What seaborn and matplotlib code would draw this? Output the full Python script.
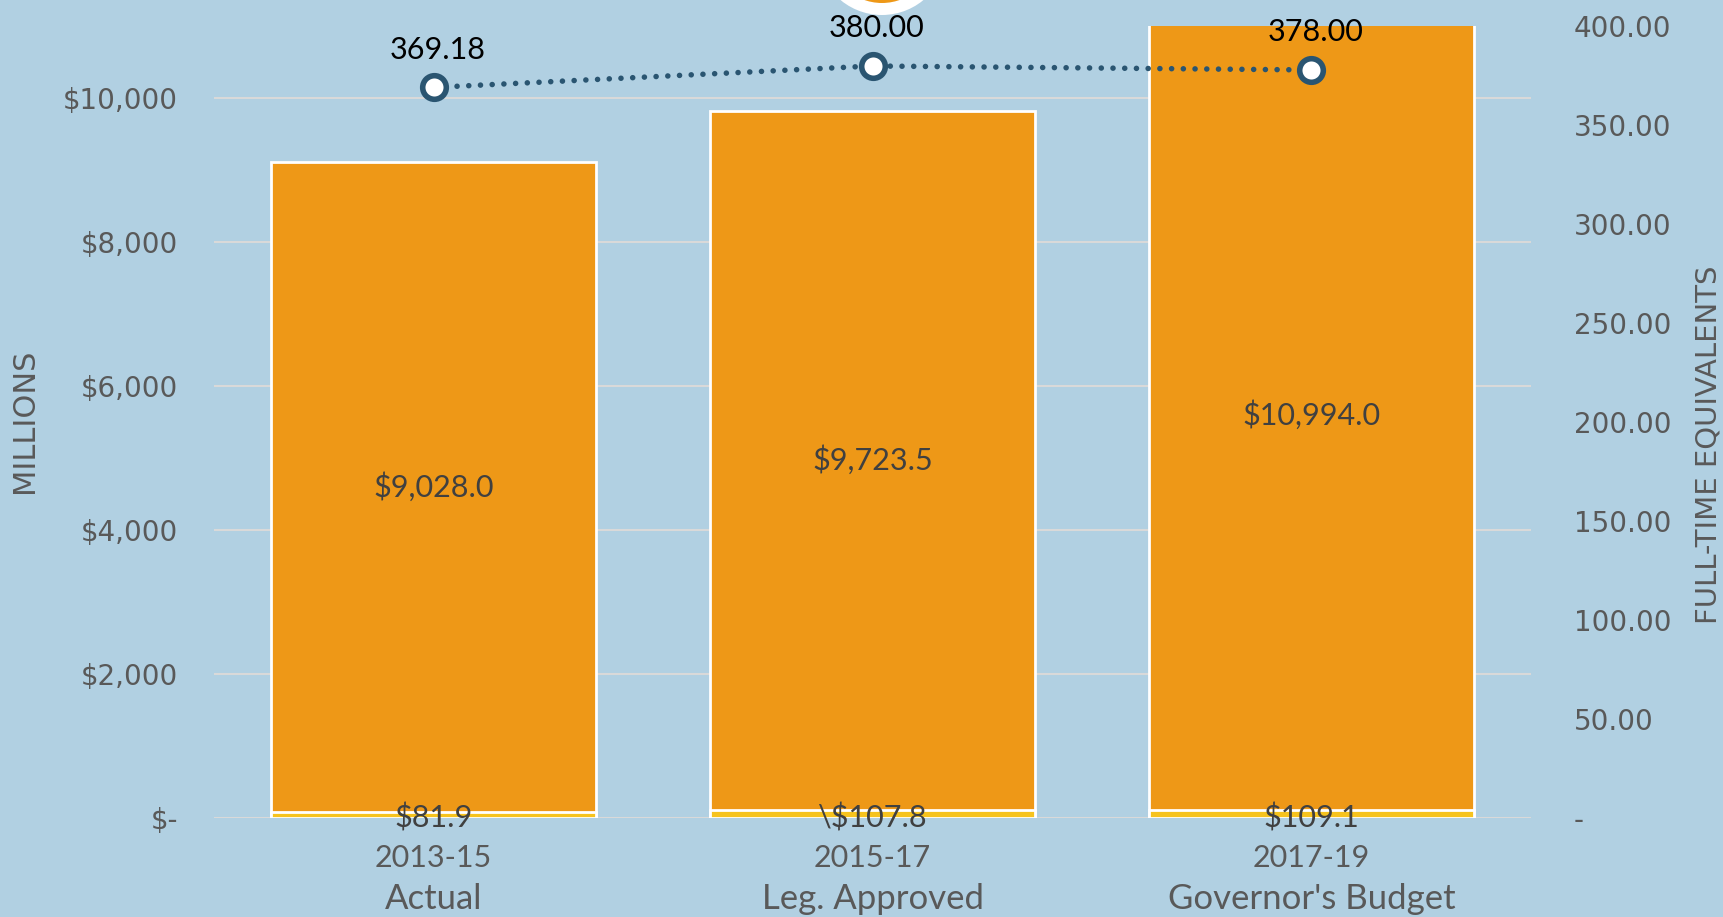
import matplotlib
matplotlib.use("Agg")
import matplotlib.pyplot as plt
import seaborn as sns
import numpy as np
import pandas as pd
from matplotlib.patches import Ellipse

# ---- data ----
periods = ["2013-15", "2015-17", "2017-19"]
period_names = ["Actual", "Leg. Approved", "Governor's Budget"]
base_values = [81.9, 107.8, 109.1]          # yellow (bottom) segment, $ millions
main_values = [9028.0, 9723.5, 10994.0]     # orange segment, $ millions
base_labels = ["$81.9", "\\$107.8", "$109.1"]
main_labels = ["$9,028.0", "$9,723.5", "$10,994.0"]
fte_values = [369.18, 380.00, 378.00]
fte_labels = ["369.18", "380.00", "378.00"]
left_ticks = [0, 2000, 4000, 6000, 8000, 10000]
left_tick_labels = ["$-", "$2,000", "$4,000", "$6,000", "$8,000", "$10,000"]
right_ticks = [0, 50, 100, 150, 200, 250, 300, 350, 400]
right_tick_labels = ["-", "50.00", "100.00", "150.00", "200.00", "250.00",
                     "300.00", "350.00", "400.00"]

BG = "#B1D0E2"
ORANGE = "#EE9817"
YELLOW = "#F6C31E"
LINE = "#2A5571"
TICK = "#595959"
LABEL = "#404040"

sns.set_theme(style="white")
plt.rcParams["font.family"] = ["DejaVu Sans"]

W, H = 1723, 917
fig = plt.figure(figsize=(W / 100, H / 100), dpi=100, facecolor=BG)
ax = fig.add_axes([0.1243, 0.108, 0.8885 - 0.1243, 0.9712 - 0.108])
ax.set_facecolor(BG)

cats = [f"{p}\n{n}" for p, n in zip(periods, period_names)]
totals = [b + m for b, m in zip(base_values, main_values)]
df = pd.DataFrame({"cat": cats, "total": totals, "base": base_values})

sns.barplot(data=df, x="cat", y="total", color=ORANGE, saturation=1,
            width=0.74, edgecolor="white", linewidth=2, ax=ax, zorder=2)
sns.barplot(data=df, x="cat", y="base", color=YELLOW, saturation=1,
            width=0.74, edgecolor="white", linewidth=2, ax=ax, zorder=3)

ax.set_xlim(-0.5, 2.5)
ax.set_ylim(0, 11000)
ax.set_yticks(left_ticks)
ax.set_yticklabels(left_tick_labels, fontsize=20, color=TICK)
ax.yaxis.grid(True, color="#D9D9D9", linewidth=1.5)
ax.set_axisbelow(True)
ax.tick_params(axis="y", length=0, pad=26)
ax.tick_params(axis="x", length=0)
for s in ax.spines.values():
    s.set_visible(False)
ax.set_xlabel("")
ax.set_ylabel("")
ax.set_xticks(range(len(cats)))
ax.set_xticklabels([""] * len(cats))

# two-line category labels (second line in slightly larger type, as in reference)
ax_h = (818 - 26.4)
xt = ax.get_xaxis_transform()
for i in range(len(cats)):
    ax.text(i, (818 - 858) / ax_h, periods[i], transform=xt, ha="center", va="center",
            fontsize=22, color=TICK, family="Lato", clip_on=False)
    ax.text(i, (818 - 899) / ax_h, period_names[i], transform=xt, ha="center",
            va="center", fontsize=25, color=TICK, family="Lato", clip_on=False)

for i, (b, m) in enumerate(zip(base_values, main_values)):
    ax.text(i, b + m / 2, main_labels[i], ha="center", va="center",
            fontsize=22, color=LABEL, family="Lato", zorder=5, parse_math=False)
    ax.text(i, 0, base_labels[i], ha="center", va="center",
            fontsize=22, color=LABEL, family="Lato", zorder=5, parse_math=False)

# ---- FTE line on secondary axis ----
ax2 = ax.twinx()
ax2.set_ylim(0, 400)
ax2.patch.set_visible(False)
sns.lineplot(x=[0, 1, 2], y=fte_values, ax=ax2, color=LINE, linewidth=4,
             linestyle=(0, (0.01, 2.1)), dash_capstyle="round",
             marker="o", markersize=17, markerfacecolor="white",
             markeredgecolor=LINE, markeredgewidth=4, zorder=6, clip_on=False)
for i, v in enumerate(fte_values):
    ax2.annotate(fte_labels[i], (i, v), xytext=(3, 27), textcoords="offset points",
                 ha="center", va="center", fontsize=22, color="black",
                 family="Lato", annotation_clip=False)
ax2.set_yticks(right_ticks)
ax2.set_yticklabels(right_tick_labels, fontsize=20, color=TICK, ha="left")
ax2.tick_params(axis="y", length=0, pad=31)
for s in ax2.spines.values():
    s.set_visible(False)
ax2.set_ylabel("")

# axis titles
fig.text(25 / W, 1 - 421 / H, "MILLIONS", rotation=90, ha="center", va="center",
         fontsize=22, color=TICK, family=["Liberation Sans Narrow", "DejaVu Sans"])
fig.text(1709 / W, 1 - 445 / H, "FULL-TIME EQUIVALENTS", rotation=90,
         ha="center", va="center", fontsize=21, color=TICK,
         family=["Liberation Sans Narrow", "DejaVu Sans"])

# partially visible badge at top
cx, cy = 882 / W, 1 + 50 / H
fig.patches.append(Ellipse((cx, cy), 2 * 65 / W, 2 * 65 / H, transform=fig.transFigure,
                           facecolor="white", edgecolor="none", zorder=10))
fig.patches.append(Ellipse((cx, cy), 2 * 53 / W, 2 * 53 / H, transform=fig.transFigure,
                           facecolor=ORANGE, edgecolor="none", zorder=11))

fig.savefig("out.png", dpi=100, facecolor=BG)
